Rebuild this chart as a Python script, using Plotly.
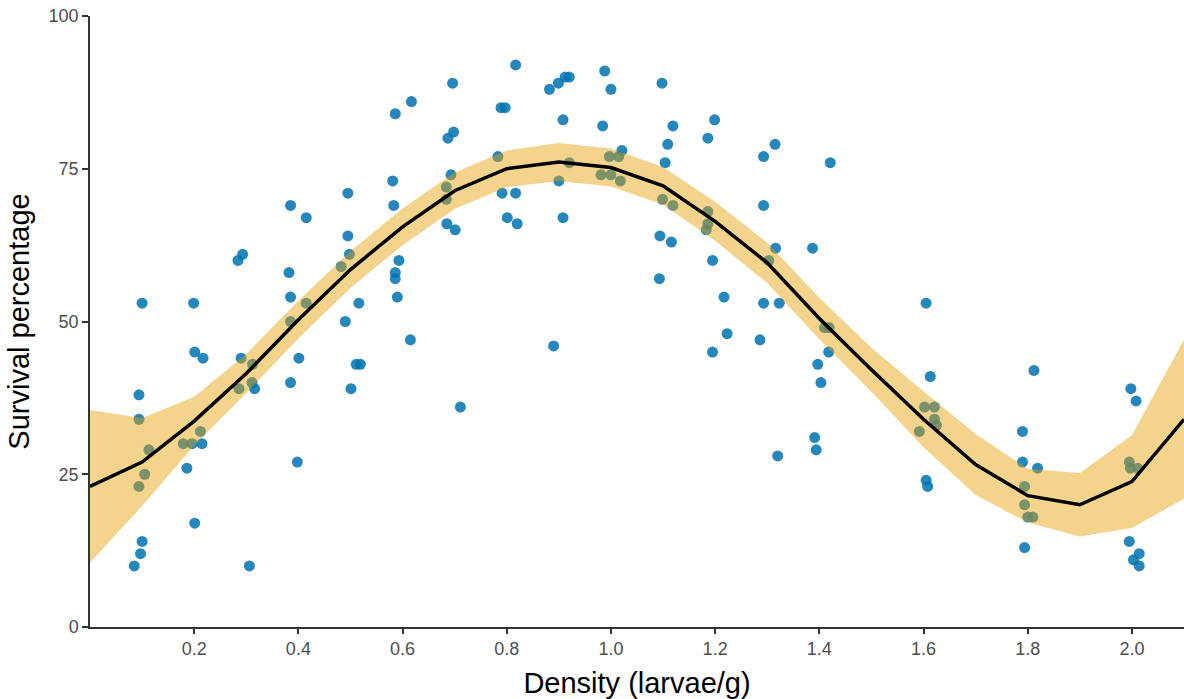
import plotly.graph_objects as go

# Observed data (density in larvae/g, survival %)
density = [
    0.100, 0.094, 0.094, 0.113, 0.105, 0.094, 0.100, 0.097, 0.085,
    0.199, 0.201, 0.217, 0.179, 0.196, 0.212, 0.215, 0.186, 0.201,
    0.284, 0.293, 0.290, 0.312, 0.286, 0.311, 0.316, 0.306,
    0.385, 0.415, 0.382, 0.385, 0.415, 0.385, 0.401, 0.385, 0.398,
    0.495, 0.495, 0.498, 0.482, 0.516, 0.490, 0.511, 0.519, 0.501,
    0.586, 0.617, 0.581, 0.583, 0.593, 0.586, 0.586, 0.590, 0.615,
    0.696, 0.687, 0.698, 0.693, 0.684, 0.684, 0.685, 0.701, 0.711,
    0.817, 0.789, 0.797, 0.783, 0.791, 0.817, 0.801, 0.820,
    0.882, 0.899, 0.912, 0.920, 0.908, 0.920, 0.900, 0.908, 0.890,
    0.988, 1.000, 0.984, 1.021, 0.997, 1.015, 0.981, 1.000, 1.018,
    1.098, 1.119, 1.109, 1.104, 1.099, 1.119, 1.094, 1.116, 1.093,
    1.199, 1.186, 1.186, 1.186, 1.183, 1.195, 1.217, 1.223, 1.195,
    1.315, 1.293, 1.293, 1.316, 1.303, 1.293, 1.323, 1.286, 1.320,
    1.421, 1.387, 1.410, 1.419, 1.418, 1.397, 1.403, 1.391, 1.394,
    1.605, 1.613, 1.602, 1.621, 1.621, 1.625, 1.592, 1.605, 1.608,
    1.812, 1.790, 1.790, 1.819, 1.794, 1.794, 1.810, 1.800, 1.794,
    1.998, 2.008, 1.995, 1.997, 2.011, 1.995, 2.014, 2.003, 2.014,
]
survival = [
    53, 38, 34, 29, 25, 23, 14, 12, 10,
    53, 45, 44, 30, 30, 32, 30, 26, 17,
    60, 61, 44, 43, 39, 40, 39, 10,
    69, 67, 58, 54, 53, 50, 44, 40, 27,
    71, 64, 61, 59, 53, 50, 43, 43, 39,
    84, 86, 73, 69, 60, 58, 57, 54, 47,
    89, 80, 81, 74, 72, 70, 66, 65, 36,
    92, 85, 85, 77, 71, 71, 67, 66,
    88, 89, 90, 90, 83, 76, 73, 67, 46,
    91, 88, 82, 78, 77, 77, 74, 74, 73,
    89, 82, 79, 76, 70, 69, 64, 63, 57,
    83, 80, 68, 66, 65, 60, 54, 48, 45,
    79, 77, 69, 62, 60, 53, 53, 47, 28,
    76, 62, 49, 49, 45, 43, 40, 31, 29,
    53, 41, 36, 36, 34, 33, 32, 24, 23,
    42, 32, 27, 26, 23, 20, 18, 18, 13,
    39, 37, 27, 26, 26, 14, 12, 11, 10,
]

# Smoothed fit and its confidence half-width
fit_x = [0.0, 0.1, 0.2, 0.3, 0.4, 0.5, 0.6, 0.7, 0.8, 0.9, 1.0,
         1.1, 1.2, 1.3, 1.4, 1.5, 1.6, 1.7, 1.8, 1.9, 2.0, 2.1]
fit_y = [23.0, 27.0, 33.7, 41.5, 50.3, 58.5, 65.5, 71.4, 75.0, 76.1, 75.2,
         72.2, 66.4, 59.6, 50.5, 42.1, 34.0, 26.6, 21.5, 20.0, 23.8, 34.0]
fit_half = [12.5, 7.2, 4.0, 3.2, 3.1, 3.0, 3.0, 3.0, 3.0, 3.1, 3.1,
            3.1, 3.2, 3.3, 3.4, 3.6, 4.6, 5.0, 4.4, 5.2, 7.6, 13.0]

x_ticks = [0.2, 0.4, 0.6, 0.8, 1.0, 1.2, 1.4, 1.6, 1.8, 2.0]
y_ticks = [0, 25, 50, 75, 100]

upper = [y + h for y, h in zip(fit_y, fit_half)]
lower = [y - h for y, h in zip(fit_y, fit_half)]

fig = go.Figure()
fig.add_trace(go.Scatter(
    x=density, y=survival, mode="markers",
    marker=dict(size=11, color="#0072B2", opacity=0.85, line=dict(width=0)),
    hoverinfo="x+y", showlegend=False))
fig.add_trace(go.Scatter(
    x=fit_x + fit_x[::-1], y=upper + lower[::-1],
    mode="lines", fill="toself", fillcolor="rgba(230,159,0,0.45)",
    line=dict(width=0), hoverinfo="skip", showlegend=False))
fig.add_trace(go.Scatter(
    x=fit_x, y=fit_y, mode="lines",
    line=dict(color="black", width=3.5), showlegend=False))

axis_font = dict(family="Liberation Sans, Arial, sans-serif", size=18, color="#4D4D4D")
title_font = dict(family="Liberation Sans, Arial, sans-serif", size=29, color="black")

fig.update_layout(
    width=1184, height=699,
    margin=dict(l=90, r=0, t=16, b=72),
    plot_bgcolor="white", paper_bgcolor="white",
    xaxis=dict(range=[0, 2.1], tickvals=x_ticks,
               ticktext=[f"{v:.1f}" for v in x_ticks],
               showgrid=False, zeroline=False, showline=True,
               linecolor="#333333", linewidth=1.5,
               ticks="outside", ticklen=5, tickwidth=1.5, tickcolor="#333333",
               tickfont=axis_font,
               title=dict(text="Density (larvae/g)", font=title_font, standoff=14)),
    yaxis=dict(range=[0, 100], tickvals=y_ticks,
               showgrid=False, zeroline=False, showline=True,
               linecolor="#333333", linewidth=1.5,
               ticks="outside", ticklen=6, tickwidth=1.5, tickcolor="#333333",
               tickfont=axis_font,
               title=dict(text="Survival percentage", font=title_font, standoff=10)),
)

fig.write_html("out.html")
